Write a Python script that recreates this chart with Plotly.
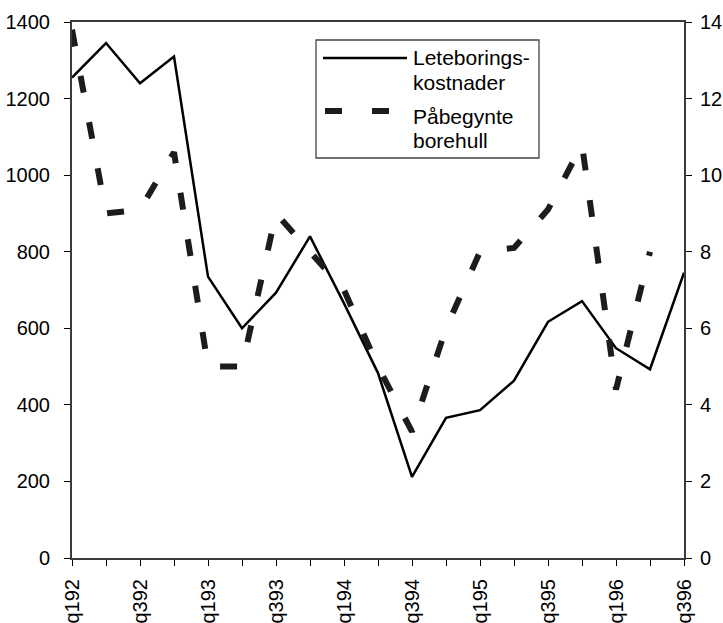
import plotly.graph_objects as go

quarters = ['q192', 'q292', 'q392', 'q492', 'q193', 'q293', 'q393', 'q493',
            'q194', 'q294', 'q394', 'q494', 'q195', 'q295', 'q395', 'q495',
            'q196', 'q296', 'q396']
tick_labels = ['q192', '', 'q392', '', 'q193', '', 'q393', '', 'q194', '',
               'q394', '', 'q195', '', 'q395', '', 'q196', '', 'q396']
leteborings_kostnader = [1255, 1345, 1240, 1310, 735, 600, 693, 840, 665, 483,
                         212, 366, 386, 463, 617, 671, 548, 493, 745]
pabegynte_borehull = [13.8, 9.0, 9.1, 10.6, 5.0, 5.0, 9.0, 8.0, 7.0, 5.0,
                      3.3, 6.0, 8.0, 8.1, 9.1, 10.8, 4.4, 8.0, None]
name_cost = 'Leteborings-<br>kostnader'
name_wells = 'Påbegynte<br>borehull'

W, H = 723, 623
L, R, T, B = 72, 684, 22, 558
FONT = 'Liberation Sans, Arial, sans-serif'
AXC = '#3a3a3a'
DASH = '17px,30px'


def px(x):
    return (x - L) / (R - L)


def py(y):
    return (B - y) / (B - T)


fig = go.Figure()
fig.add_trace(go.Scatter(x=quarters, y=leteborings_kostnader, mode='lines',
                         name=name_cost, line=dict(color='black', width=2.5),
                         yaxis='y'))
fig.add_trace(go.Scatter(x=quarters, y=pabegynte_borehull, mode='lines',
                         name=name_wells,
                         line=dict(color='#1c1c1c', width=6, dash=DASH),
                         yaxis='y2'))

tickfont = dict(family=FONT, size=20, color='black')

fig.update_layout(
    width=W, height=H,
    margin=dict(l=L, r=W - R, t=T, b=H - B, pad=0, autoexpand=False),
    paper_bgcolor='white', plot_bgcolor='white',
    showlegend=False,
    xaxis=dict(type='category', range=[0, len(quarters) - 1],
               tickvals=quarters, ticktext=tick_labels, tickangle=-90,
               ticks='outside', ticklen=6, tickwidth=1.2, tickcolor='black',
               showline=True, linecolor=AXC, linewidth=2, mirror=True,
               showgrid=False, zeroline=False, tickfont=tickfont,
               ticklabelstandoff=5, automargin=False),
    yaxis=dict(range=[0, 1400], dtick=200, ticks='outside', ticklen=6,
               tickwidth=1.2, tickcolor='black', showline=True,
               linecolor=AXC, linewidth=2, showgrid=False, zeroline=False,
               tickfont=tickfont, ticklabelstandoff=10, automargin=False),
    yaxis2=dict(range=[0, 14], dtick=2, overlaying='y', side='right',
                anchor='x', ticks='outside', ticklen=6, tickwidth=1.2,
                tickcolor='black', showline=True, linecolor=AXC, linewidth=2,
                showgrid=False, zeroline=False, tickfont=tickfont,
                ticklabelstandoff=4, automargin=False),
    # inner halves of the crossing tick marks
    xaxis2=dict(type='linear', range=[0, len(quarters) - 1], dtick=1,
                overlaying='x', anchor='y', side='bottom', ticks='inside',
                ticklen=5, tickwidth=1.2, tickcolor='black',
                showticklabels=False, showline=False, showgrid=False,
                zeroline=False, automargin=False),
    yaxis3=dict(range=[0, 1400], dtick=200, overlaying='y', side='left',
                anchor='x', ticks='inside', ticklen=5, tickwidth=1.2,
                tickcolor='black', showticklabels=False, showline=False,
                showgrid=False, zeroline=False, automargin=False),
    yaxis4=dict(range=[0, 14], dtick=2, overlaying='y', side='right',
                anchor='x', ticks='inside', ticklen=6, tickwidth=1.2,
                tickcolor='black', showticklabels=False, showline=False,
                showgrid=False, zeroline=False, automargin=False),
)

# Legend box drawn to match the original's long line samples
shapes = [
    dict(type='rect', xref='paper', yref='paper', x0=px(316), x1=px(539),
         y0=py(158), y1=py(40), line=dict(color='#444', width=1.3),
         fillcolor='white', layer='above'),
    dict(type='line', xref='paper', yref='paper', x0=px(323), x1=px(407),
         y0=py(58), y1=py(58), line=dict(color='black', width=2.5),
         layer='above'),
    dict(type='line', xref='paper', yref='paper', x0=px(325), x1=px(389),
         y0=py(111), y1=py(111),
         line=dict(color='#1c1c1c', width=6, dash=DASH), layer='above'),
]
legfont = dict(family=FONT, size=21, color='black')
ann = []
for txt, yc in [('Leteborings-', 58), ('kostnader', 82),
                ('Påbegynte', 116), ('borehull', 140)]:
    ann.append(dict(xref='paper', yref='paper', x=px(411), y=py(yc),
                    xanchor='left', yanchor='middle', text=txt,
                    showarrow=False, font=legfont))
fig.update_layout(shapes=shapes, annotations=ann)

fig.write_html('out.html', config={'displayModeBar': False},
               post_script="document.body.style.margin='0px';"
                           "document.body.style.overflow='hidden';")
